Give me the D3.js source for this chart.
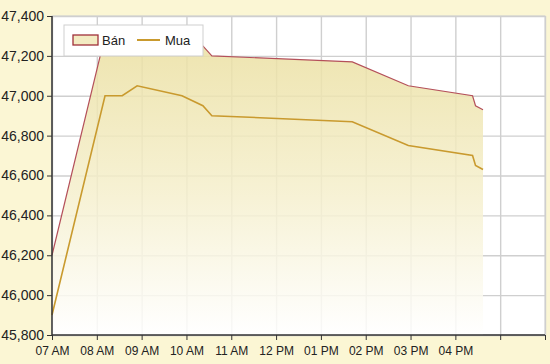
<!DOCTYPE html>
<html lang="vi">
<head>
<meta charset="utf-8">
<title>Giá vàng</title>
<style>
  body { margin: 0; background: #fbf6d4; }
  svg { display: block; font-family: "Liberation Sans", Arial, sans-serif; }
  .axis path, .axis line { stroke: #333; }
  .axis text { fill: #222; }
  .grid line { stroke: #cfcfcf; stroke-width: 1.4; }
</style>
</head>
<body>
<svg width="550" height="364"></svg>
<script src="https://d3js.org/d3.v7.min.js"></script>
<script>

// data
var times = ["07:00", "08:11", "08:34", "08:54", "09:54", "10:22", "10:34", "13:42", "14:57", "16:23", "16:27", "16:37"];
var ban   = [46200, 47300, 47300, 47350, 47300, 47250, 47200, 47170, 47050, 47000, 46950, 46930];
var mua   = [45900, 47000, 47000, 47050, 47000, 46950, 46900, 46870, 46750, 46700, 46650, 46630];

var hourTicks  = [7, 8, 9, 10, 11, 12, 13, 14, 15, 16, 17, 18];
var hourLabels = ["07 AM", "08 AM", "09 AM", "10 AM", "11 AM", "12 PM", "01 PM", "02 PM", "03 PM", "04 PM", "", ""];
var yTicks = [45800, 46000, 46200, 46400, 46600, 46800, 47000, 47200, 47400];
var seriesNames = ["Bán", "Mua"];

var svg = d3.select("svg"),
    margin = {top: 16, right: 5, bottom: 29, left: 52},
    width = +svg.attr("width") - margin.left - margin.right,
    height = +svg.attr("height") - margin.top - margin.bottom;

function toHour(s) {
  var p = s.split(":");
  return +p[0] + (+p[1]) / 60;
}

var data = times.map(function(t, i) {
  return {h: toHour(t), ban: ban[i], mua: mua[i]};
});

var x = d3.scaleLinear().domain([7, 18]).range([0, width]),
    y = d3.scaleLinear().domain([45800, 47400]).range([height, 0]);

var defs = svg.append("defs");
var grad = defs.append("linearGradient")
    .attr("id", "fillGrad")
    .attr("gradientUnits", "userSpaceOnUse")
    .attr("x1", 0).attr("x2", 0)
    .attr("y1", 0).attr("y2", height);
grad.append("stop").attr("offset", "0%").attr("stop-color", "#e9dd9a");
grad.append("stop").attr("offset", "55%").attr("stop-color", "#f5efcc");
grad.append("stop").attr("offset", "100%").attr("stop-color", "#ffffff");

var g = svg.append("g")
    .attr("transform", "translate(" + margin.left + "," + margin.top + ")");

// plot background
g.append("rect")
    .attr("width", width)
    .attr("height", height)
    .attr("fill", "#fff")
    .attr("stroke", "#d0d0d0");

// grid
g.append("g")
    .attr("class", "grid")
    .call(d3.axisLeft(y).tickValues(yTicks).tickSize(-width).tickFormat(""))
    .call(function(s) { s.select(".domain").remove(); });

g.append("g")
    .attr("class", "grid")
    .attr("transform", "translate(0," + height + ")")
    .call(d3.axisBottom(x).tickValues(hourTicks).tickSize(-height).tickFormat(""))
    .call(function(s) { s.select(".domain").remove(); });

// area under Bán
var area = d3.area()
    .x(function(d) { return x(d.h); })
    .y0(height)
    .y1(function(d) { return y(d.ban); });

g.append("path")
    .datum(data)
    .attr("d", area)
    .attr("fill", "url(#fillGrad)")
    .attr("opacity", 0.85);

var lineBan = d3.line()
    .x(function(d) { return x(d.h); })
    .y(function(d) { return y(d.ban); });

var lineMua = d3.line()
    .x(function(d) { return x(d.h); })
    .y(function(d) { return y(d.mua); });

g.append("path")
    .datum(data)
    .attr("d", lineBan)
    .attr("fill", "none")
    .attr("stroke", "#b4505a")
    .attr("stroke-width", 1.2);

g.append("path")
    .datum(data)
    .attr("d", lineMua)
    .attr("fill", "none")
    .attr("stroke", "#c99a2e")
    .attr("stroke-width", 1.6);

// axes
g.append("g")
    .attr("class", "axis")
    .call(d3.axisLeft(y).tickValues(yTicks).tickSize(5).tickPadding(3).tickFormat(d3.format(",")))
    .call(function(s) {
      s.select(".domain").attr("d", "M0,0V" + height).attr("stroke-width", 1.5);
      s.selectAll("text").style("font-size", "14px");
    });

g.append("g")
    .attr("class", "axis")
    .attr("transform", "translate(0," + height + ")")
    .call(d3.axisBottom(x).tickValues(hourTicks).tickSize(5).tickPadding(6)
      .tickFormat(function(d, i) { return hourLabels[i]; }))
    .call(function(s) {
      s.select(".domain").attr("d", "M0,0H" + width).attr("stroke-width", 1.5);
      s.selectAll("text").style("font-size", "12px");
    });

// legend
var legend = g.append("g").attr("transform", "translate(12,9)");
legend.append("rect")
    .attr("width", 139)
    .attr("height", 31)
    .attr("fill", "#fff")
    .attr("stroke", "#cfcfcf");
legend.append("rect")
    .attr("x", 9).attr("y", 10)
    .attr("width", 25).attr("height", 10)
    .attr("fill", "#f3ebc2")
    .attr("stroke", "#a0303a")
    .attr("stroke-width", 1.3);
legend.append("text")
    .attr("x", 38).attr("y", 20)
    .style("font-size", "13px")
    .attr("fill", "#222")
    .text(seriesNames[0]);
legend.append("line")
    .attr("x1", 73).attr("x2", 96)
    .attr("y1", 15).attr("y2", 15)
    .attr("stroke", "#c99a2e")
    .attr("stroke-width", 2);
legend.append("text")
    .attr("x", 101).attr("y", 20)
    .style("font-size", "13px")
    .attr("fill", "#222")
    .text(seriesNames[1]);

</script>
</body>
</html>
